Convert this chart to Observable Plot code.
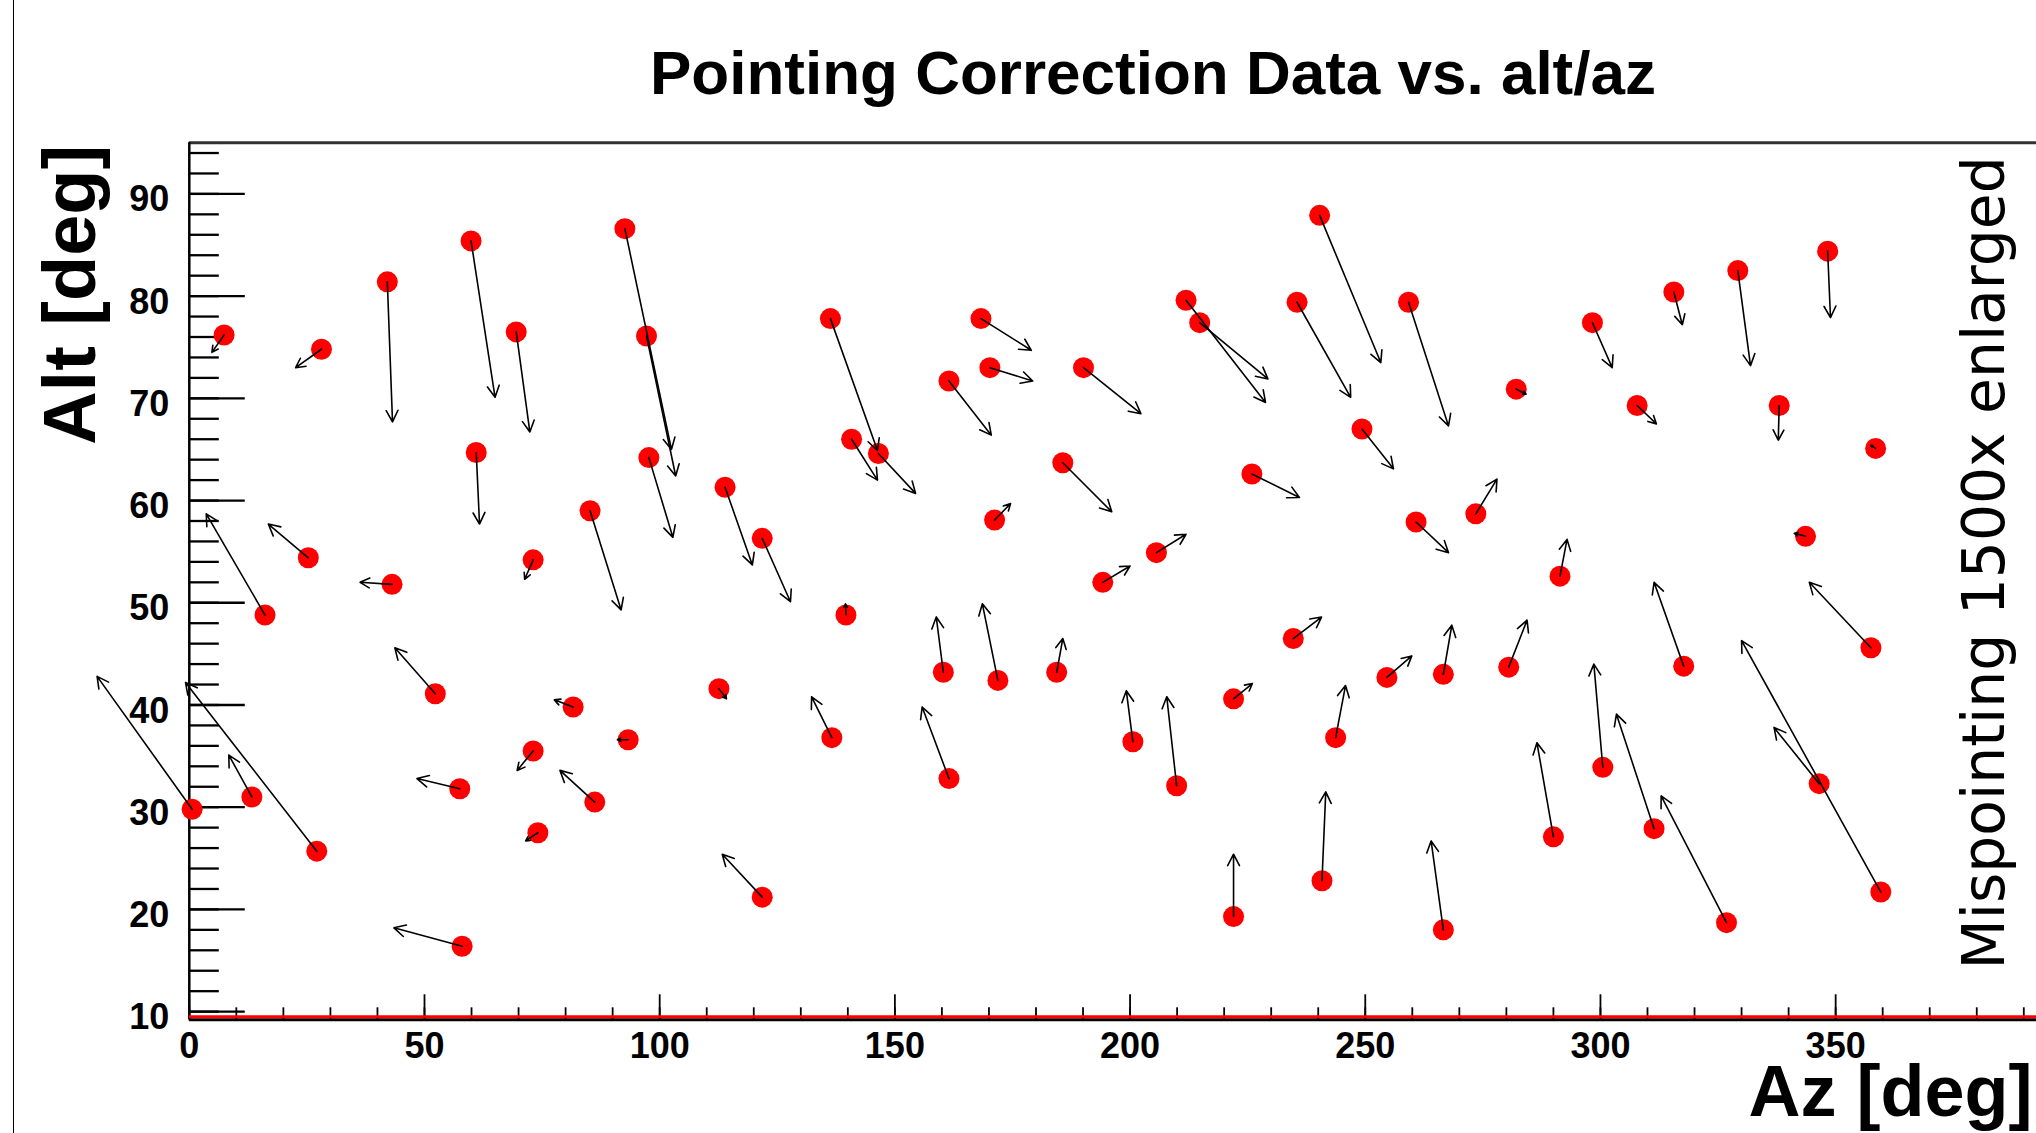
<!DOCTYPE html>
<html><head><meta charset="utf-8">
<script src="https://cdn.jsdelivr.net/npm/d3@7"></script>
<script src="https://cdn.jsdelivr.net/npm/@observablehq/plot@0.6"></script>
<style>
html,body{margin:0;padding:0;background:#fff;overflow:hidden;}
#page{position:relative;width:2036px;height:1133px;}
#edge{position:absolute;left:13px;top:0;width:0;height:1133px;border-left:1.5px solid #000;}
#title{position:relative;height:120px;width:2036px;}
#title span{position:absolute;left:1153px;top:42px;transform:translateX(-50%);font:bold 62px/62px "Liberation Sans",Arial,sans-serif;white-space:nowrap;color:#000;}
#chart svg{display:block;}
</style></head><body>
<div id="page"><div id="edge"></div><div id="title"><span>Pointing Correction Data vs. alt/az</span></div><div id="chart"></div></div>
<script>
// measured position (azimuth, altitude) of each pointing-correction star
const az = [0.6, 7.4, 13.3, 16.1, 25.3, 27.1, 28.1, 42.1, 43.1, 52.3, 57.5, 58.0, 59.9, 61.0, 69.5, 73.1, 73.1, 74.1, 81.6, 85.2, 86.2, 92.6, 93.3, 97.2, 97.7, 112.6, 113.9, 121.8, 121.8, 136.3, 136.6, 139.6, 140.8, 146.5, 160.3, 161.5, 161.5, 168.3, 170.2, 171.2, 171.9, 184.4, 185.7, 190.1, 194.2, 200.6, 205.6, 209.9, 211.9, 214.8, 222.0, 222.0, 225.9, 234.7, 235.5, 240.3, 240.8, 243.7, 249.3, 254.6, 259.2, 260.8, 266.6, 266.6, 273.5, 280.5, 282.1, 290.0, 291.4, 298.3, 300.5, 307.8, 311.4, 315.6, 317.7, 326.8, 329.2, 338.0, 343.6, 346.5, 348.3, 357.5, 358.5, 359.6];
const alt = [29.8, 76.2, 31.0, 48.8, 54.4, 25.7, 74.8, 81.4, 51.8, 41.1, 31.8, 16.4, 85.4, 64.7, 76.5, 54.2, 35.5, 27.5, 39.8, 59.0, 30.5, 86.6, 36.6, 76.1, 64.2, 41.6, 61.3, 56.3, 21.2, 77.8, 36.8, 48.8, 66.0, 64.6, 43.2, 71.7, 32.8, 77.8, 73.0, 58.1, 42.4, 43.2, 63.7, 73.0, 52.0, 36.4, 54.9, 32.1, 79.6, 77.4, 40.6, 19.3, 62.6, 46.5, 79.4, 87.9, 22.8, 36.8, 67.0, 42.7, 79.4, 57.9, 43.0, 18.0, 58.7, 43.7, 70.9, 27.1, 52.6, 77.4, 33.9, 69.3, 27.9, 80.4, 43.8, 18.7, 82.5, 69.3, 56.5, 32.3, 84.4, 45.6, 65.1, 21.7];
// tip of the (1500x enlarged) mispointing arrow for each star
const azEnd = [-19.6, 4.8, 8.4, 3.6, 16.8, -0.8, 22.6, 43.2, 36.3, 43.7, 48.4, 43.5, 65.0, 61.7, 72.4, 71.3, 69.7, 71.5, 77.6, 91.8, 78.8, 102.5, 91.0, 103.4, 102.8, 114.2, 119.7, 127.8, 113.3, 146.3, 132.3, 139.5, 146.3, 154.4, 158.8, 170.5, 155.8, 179.0, 179.3, 174.6, 168.6, 185.7, 196.1, 202.3, 200.0, 199.2, 211.9, 207.8, 228.8, 229.3, 226.0, 222.0, 236.0, 240.7, 246.9, 253.3, 241.6, 245.8, 256.0, 259.9, 267.7, 267.7, 268.4, 264.0, 278.0, 284.4, 284.2, 286.5, 292.9, 302.5, 298.6, 311.9, 303.4, 317.4, 311.4, 312.9, 331.9, 337.8, 341.2, 336.9, 348.9, 344.4, 357.5, 330.0];
const altEnd = [42.8, 74.5, 35.1, 58.7, 57.7, 42.2, 73.0, 67.7, 52.0, 45.6, 32.8, 18.2, 70.1, 57.7, 66.7, 52.3, 33.6, 26.7, 40.5, 49.3, 33.6, 65.0, 36.6, 62.4, 56.4, 40.6, 53.7, 50.1, 25.4, 64.9, 40.8, 49.9, 62.0, 60.7, 48.6, 66.4, 39.8, 74.7, 71.7, 59.7, 49.9, 46.5, 58.9, 68.5, 53.6, 41.4, 56.7, 40.8, 69.6, 71.9, 42.1, 25.4, 60.3, 48.6, 70.1, 73.5, 31.5, 41.9, 63.1, 44.8, 67.3, 54.9, 47.8, 26.7, 62.1, 48.3, 70.4, 36.3, 56.2, 73.0, 44.0, 67.5, 39.1, 77.2, 52.0, 31.1, 73.2, 65.9, 56.8, 37.8, 77.9, 52.0, 65.4, 46.3];

const xMajorTicks = [0, 50, 100, 150, 200, 250, 300, 350];
const xMinorTicks = [0, 10, 20, 30, 40, 50, 60, 70, 80, 90, 100, 110, 120, 130, 140, 150, 160, 170, 180, 190, 200, 210, 220, 230, 240, 250, 260, 270, 280, 290, 300, 310, 320, 330, 340, 350, 360, 370, 380, 390];
const yMajorTicks = [10, 20, 30, 40, 50, 60, 70, 80, 90];
const yMinorTicks = [10, 12, 14, 16, 18, 20, 22, 24, 26, 28, 30, 32, 34, 36, 38, 40, 42, 44, 46, 48, 50, 52, 54, 56, 58, 60, 62, 64, 66, 68, 70, 72, 74, 76, 78, 80, 82, 84, 86, 88, 90, 92, 94];
const xDomain = [0, 392.7];
const yDomain = [9.2, 95];
const xLabel = "Az [deg]";
const yLabel = "Alt [deg]";
const note = "Mispointing 1500x enlarged";

const data = az.map((a, i) => ({az: a, alt: alt[i], az2: azEnd[i], alt2: altEnd[i]}));

const chart = Plot.plot({
  width: 2036, height: 1013,
  marginTop: 22.3, marginBottom: 113.7, marginLeft: 188.8, marginRight: 0,
  x: {domain: xDomain},
  y: {domain: yDomain},
  style: {fontFamily: "'Liberation Sans', Arial, sans-serif", overflow: "visible", background: "transparent", color: "#000"},
  marks: [
    Plot.axisX({ticks: xMinorTicks, tickSize: -12, fill: "none", stroke: "#000", strokeWidth: 1.8}),
    Plot.axisX({ticks: xMajorTicks, tickSize: -25, fill: "none", stroke: "#000", strokeWidth: 1.8}),
    Plot.axisX({ticks: xMajorTicks, tickSize: 0, tickPadding: 12.5, label: null, fontSize: 36, fontWeight: "bold", fill: "#000"}),
    Plot.axisY({ticks: yMinorTicks, tickSize: -30, fill: "none", stroke: "#000", strokeWidth: 2.3}),
    Plot.axisY({ticks: yMajorTicks, tickSize: -56, fill: "none", stroke: "#000", strokeWidth: 2.3}),
    Plot.axisY({ticks: yMajorTicks, tickSize: 0, tickPadding: 20, label: null, fontSize: 36, fontWeight: "bold", fill: "#000", dy: 6}),
    Plot.ruleY([yDomain[1]], {stroke: "#333", strokeWidth: 3}),
    Plot.ruleX([xDomain[0]], {stroke: "#000", strokeWidth: 2.5}),
    Plot.ruleY([yDomain[0]], {stroke: "#000", strokeWidth: 3}),
    Plot.ruleY([yDomain[0]], {stroke: "#ff0000", strokeWidth: 3, dy: -3}),
    Plot.dot(data, {x: "az", y: "alt", r: 10.5, fill: "#ff0000"}),
    Plot.arrow(data, {x1: "az", y1: "alt", x2: "az2", y2: "alt2", stroke: "#000", strokeWidth: 1.6, headLength: 12, headAngle: 55}),
    Plot.text([yLabel], {text: d => d, frameAnchor: "top-left", rotate: -90, textAnchor: "end", lineAnchor: "bottom", dx: -94.8, dy: 2, fontSize: 74, fontWeight: "bold", fill: "#000"}),
    Plot.text([xLabel], {text: d => d, frameAnchor: "bottom-right", textAnchor: "end", lineAnchor: "bottom", dx: -4, dy: 95.7, fontSize: 72, fontWeight: "bold", fill: "#000"}),
    Plot.text([note], {text: d => d, frameAnchor: "bottom-right", rotate: -90, textAnchor: "start", lineAnchor: "bottom", dx: -32.7, dy: -50.3, fontSize: 58.3, fontFamily: "'DejaVu Sans', sans-serif", fill: "#000"})
  ]
});
document.getElementById("chart").appendChild(chart);
</script>
</body></html>
